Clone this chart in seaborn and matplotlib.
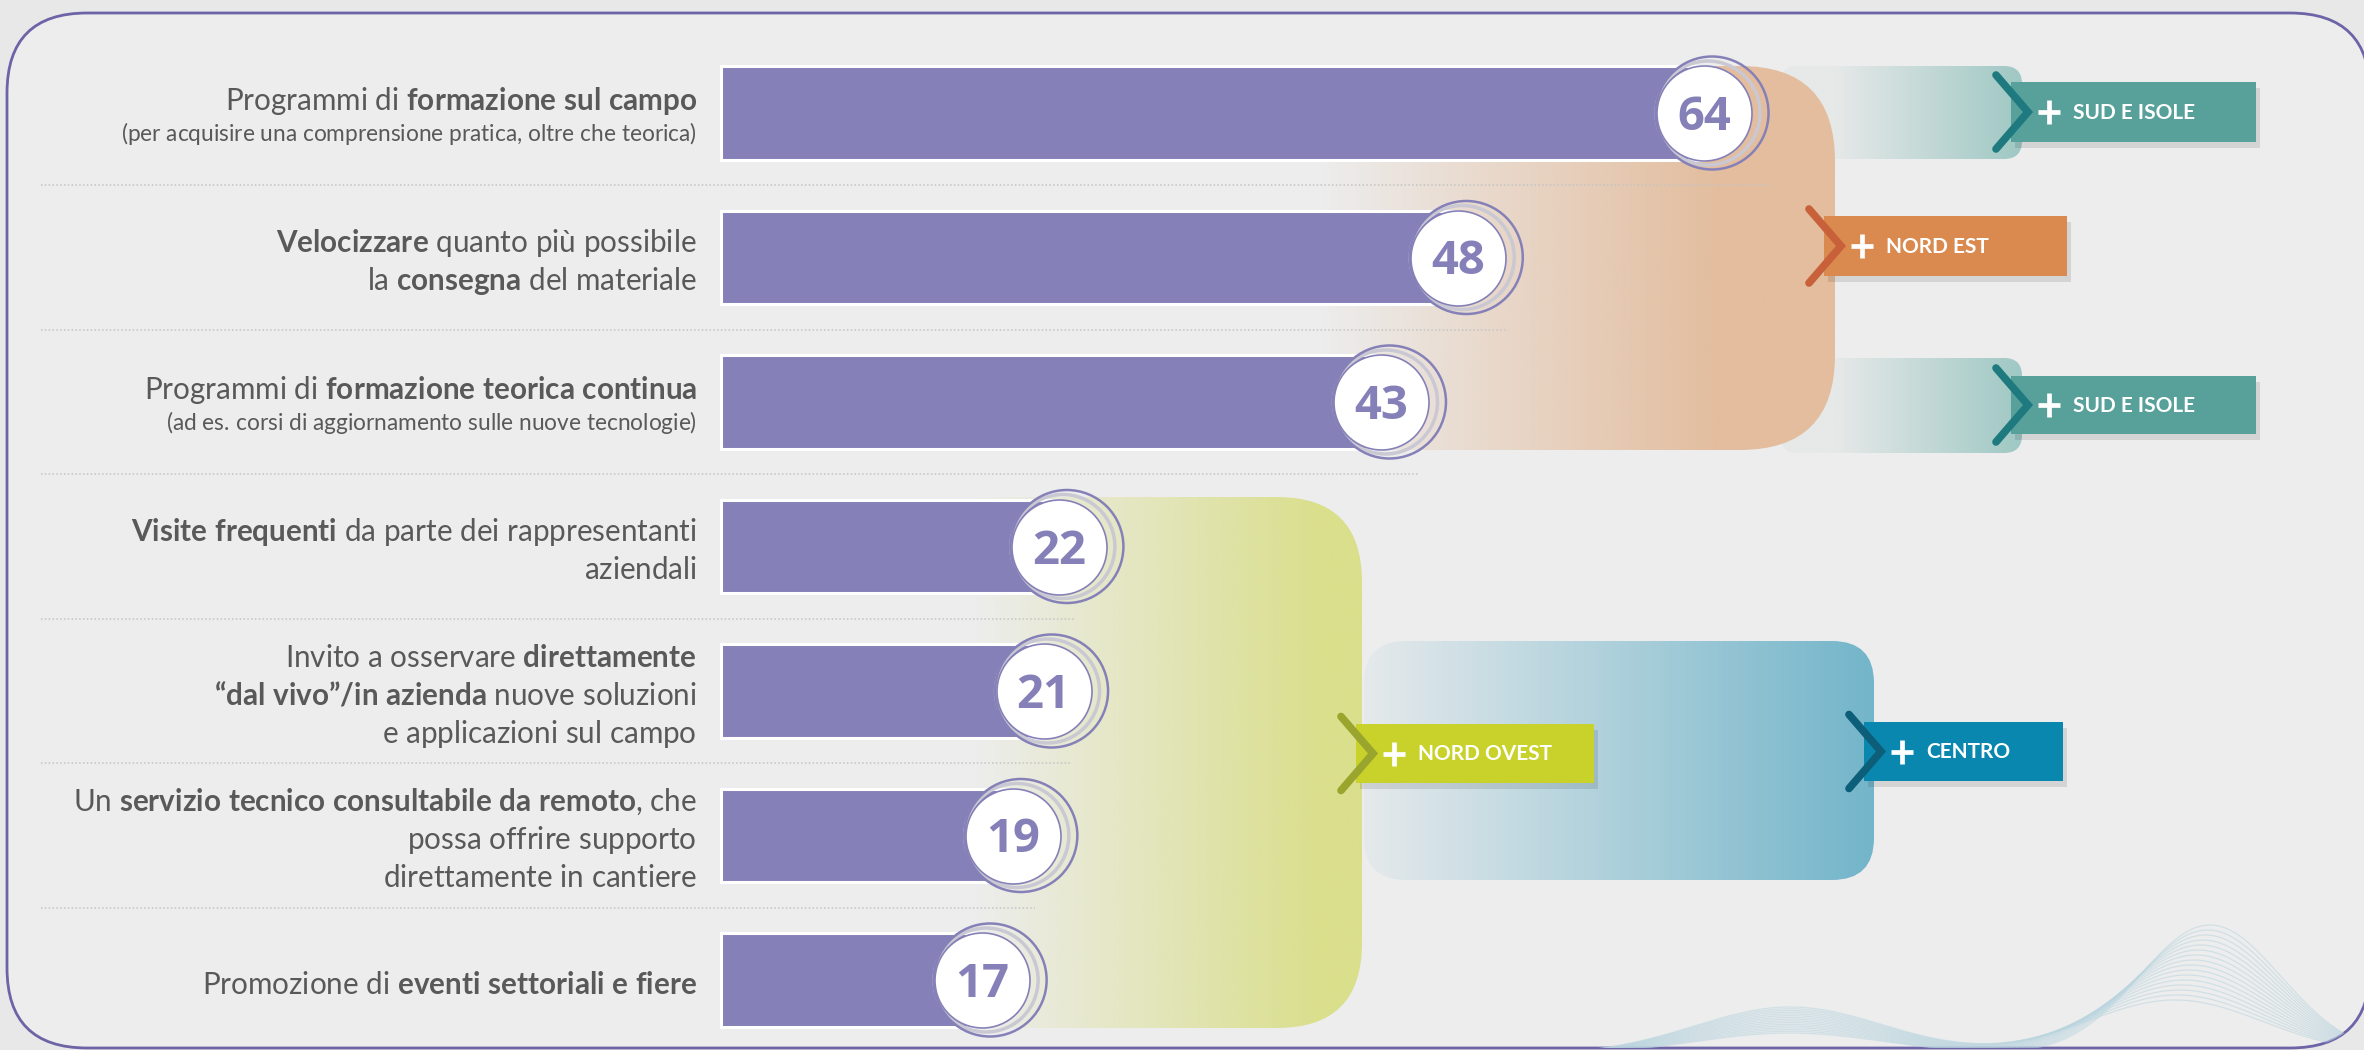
"""
Infographic: preferred support initiatives (%), with regional highlights
"""

import numpy as np
import pandas as pd
import matplotlib.pyplot as plt
from matplotlib.colors import to_rgb
from matplotlib.patches import FancyBboxPatch, Rectangle
import seaborn as sns

# --- Data ---
categories = ["Formazione sul campo", "Consegna materiale", "Formazione teorica",
              "Visite frequenti", "Osservare dal vivo", "Servizio tecnico remoto",
              "Eventi e fiere"]
values = [64, 48, 43, 22, 21, 19, 17]

# label text, **...** marks the bold part
label_lines = [
    ["Programmi di **formazione sul campo**",
     "(per acquisire una comprensione pratica, oltre che teorica)"],
    ["**Velocizzare** quanto più possibile", "la **consegna** del materiale"],
    ["Programmi di **formazione teorica continua**",
     "(ad es. corsi di aggiornamento sulle nuove tecnologie)"],
    ["**Visite frequenti** da parte dei rappresentanti", "aziendali"],
    ["Invito a osservare **direttamente**", "**“dal vivo”/in azienda** nuove soluzioni",
     "e applicazioni sul campo"],
    ["Un **servizio tecnico consultabile da remoto**, che", "possa offrire supporto",
     "direttamente in cantiere"],
    ["Promozione di **eventi settoriali e fiere**"],
]

region_names = ["SUD E ISOLE", "NORD EST", "SUD E ISOLE", "NORD OVEST", "CENTRO"]

# --- Style / layout (pixels) ---
W, H, DPI = 2364, 1050, 100
X0_PX, PX_PER_UNIT = 721, 15.36
Y0_PX, ROW_PX = 113, 144.5
PURPLE = "#8581B8"
TEXT = "#595959"
MAIN_SIZE, SUB_SIZE = 21.3, 16.3

region_boxes = [(2011, 82, 245, 60), (1824, 216, 243, 60), (2011, 376, 245, 58),
                (1356, 724, 238, 59), (1864, 722, 199, 59)]
region_colors = ["#57A19A", "#DA8A4E", "#57A19A", "#C9D22A", "#0A87AF"]
chevron_colors = ["#1F7A80", "#C8613A", "#1F7A80", "#9AA52E", "#0D5E79"]

# x0, x1, y0, y1, radius, left colour, right colour, alpha left, alpha right, fade start, fade end
panels = [
    (1780, 2022, 66, 159, 18, "#E6E9E8", "#9FC8C4", 1.0, 1.0, 1835, 2022),
    (1780, 2022, 358, 453, 18, "#E6E9E8", "#9FC8C4", 1.0, 1.0, 1835, 2022),
    (1200, 1835, 66, 450, 95, "#E3BD9E", "#E3BD9E", 0.0, 1.0, 1320, 1720),
    (880, 1362, 497, 1028, 85, "#DADF8C", "#DADF8C", 0.0, 1.0, 975, 1320),
    (1364, 1874, 641, 880, 42, "#E4E9EB", "#73B5CA", 1.0, 1.0, 1370, 1874),
]
separator_ends = [1772, 1508, 1418, 1076, 1072, 1035]

sns.set_theme(style="white")
plt.rcParams['font.family'] = ['Lato', 'DejaVu Sans']
plt.rcParams['mathtext.fontset'] = 'custom'
plt.rcParams['mathtext.rm'] = 'Lato'
plt.rcParams['mathtext.bf'] = 'Lato:bold'
plt.rcParams['mathtext.it'] = 'Lato:italic'


def to_mathtext(line):
    """Turn 'plain **bold** plain' into a mathtext string with mixed weights."""
    out = []
    for k, part in enumerate(line.split("**")):
        if not part:
            continue
        # mathtext pads punctuation, so keep commas braced and shorten the gap after dots
        part = part.replace(", ", "{,}\u0000").replace(". ", ".\\,")
        part = part.replace(" ", r"\ ").replace("\u0000", r"\ ")
        cmd = r"\mathbf" if k % 2 else r"\mathrm"
        out.append(cmd + "{" + part + "}")
    return "$" + "".join(out) + "$"


def gradient_panel(bg, spec, z):
    x0, x1, y0, y1, r, cl, cr, al, ar, fs, fe = spec
    patch = FancyBboxPatch((x0, y0), x1 - x0, y1 - y0,
                           boxstyle=f"round,pad=0,rounding_size={r}",
                           facecolor="none", edgecolor="none", zorder=z)
    bg.add_patch(patch)
    xs = np.linspace(x0, x1, 400)
    t = np.clip((xs - fs) / (fe - fs), 0, 1)
    c0, c1 = np.array(to_rgb(cl)), np.array(to_rgb(cr))
    rgb = (1 - t)[:, None] * c0 + t[:, None] * c1
    alpha = al + (ar - al) * t
    img = np.concatenate([rgb, alpha[:, None]], axis=1)[None, :, :]
    im = bg.imshow(img, extent=(x0, x1, y1, y0), aspect="auto",
                   interpolation="bilinear", zorder=z)
    im.set_clip_path(patch)


def draw_background(bg):
    frame = FancyBboxPatch((7, 13), 2363, 1035, boxstyle="round,pad=0,rounding_size=80",
                           facecolor="#EDEDED", edgecolor="#6C64A6", linewidth=2.0, zorder=1)
    bg.add_patch(frame)

    # faint wave mesh, bottom right (decoration only)
    xs = np.linspace(1560, 2360, 400)
    for k in range(16):
        f = k / 15
        ys = (1055 - (22 + 26 * f) * np.exp(-((xs - 1790) / 135) ** 2)
              - (130 - 75 * f) * np.exp(-((xs - (2210 - 35 * f)) / (100 + 25 * f)) ** 2))
        ln, = bg.plot(xs, ys, color="#B9D5DF", lw=0.9, alpha=0.55, zorder=1.5)
        ln.set_clip_path(frame)

    for i, spec in enumerate(panels):
        gradient_panel(bg, spec, 2 + 0.1 * i)

    # dotted separators between rows
    for i, x_end in enumerate(separator_ends):
        y = Y0_PX + ROW_PX * (i + 0.5)
        bg.plot([41, x_end], [y, y], color="#C4C4C4", lw=1.1,
                linestyle=(0, (1, 1.5)), zorder=2.8)

    # region tags
    for name, (bx, by, bw, bh), fc, cc in zip(region_names, region_boxes,
                                              region_colors, chevron_colors):
        cy = by + bh / 2
        bg.add_patch(Rectangle((bx + 4, by + 6), bw, bh, facecolor="black",
                               alpha=0.10, edgecolor="none", zorder=3))
        bg.add_patch(Rectangle((bx, by), bw, bh, facecolor=fc, edgecolor="none", zorder=3.1))
        bg.plot([bx - 15, bx + 17, bx - 15], [cy - 37, cy, cy + 37], color=cc,
                lw=5.5, solid_capstyle="round", solid_joinstyle="miter", zorder=3.2)
        px = bx + 38
        bg.plot([px - 11, px + 11], [cy, cy], color="white", lw=3.4,
                solid_capstyle="butt", zorder=3.3)
        bg.plot([px, px], [cy - 12, cy + 12], color="white", lw=3.4,
                solid_capstyle="butt", zorder=3.3)
        bg.text(bx + 62, cy + 1, name, color="white", fontsize=15, fontweight="bold",
                ha="left", va="center", zorder=3.4)

    bg.set_xlim(0, W)
    bg.set_ylim(H, 0)
    bg.axis("off")


def draw_bars(ax):
    df = pd.DataFrame({"categoria": categories, "valore": values})
    sns.barplot(data=df, x="valore", y="categoria", orient="h", color=PURPLE,
                saturation=1, width=0.645, edgecolor="white", linewidth=2.2,
                ax=ax, zorder=3)

    pos = np.arange(len(values))
    d_in = 95 * 72 / DPI
    d_grey = 104 * 72 / DPI
    d_out = 113 * 72 / DPI
    ax.scatter(np.array(values) + 4 / PX_PER_UNIT, pos, s=d_grey ** 2, facecolors="none",
               edgecolors="#C9C8D3", linewidths=2.5, zorder=4)
    ax.scatter(np.array(values) + 8 / PX_PER_UNIT, pos, s=d_out ** 2, facecolors="none",
               edgecolors=PURPLE, linewidths=1.8, zorder=4.5)
    ax.scatter(values, pos, s=d_in ** 2, facecolors="white", edgecolors=PURPLE,
               linewidths=1.2, zorder=5)
    for v, p in zip(values, pos):
        ax.annotate(str(v), xy=(v, p), xytext=(0, -17), textcoords="offset pixels",
                    ha="center", va="baseline", fontsize=34, fontweight="bold",
                    family="Open Sans", color=PURPLE, zorder=6)

    # rich labels to the left of the bars
    for p, lines in zip(pos, label_lines):
        sizes = [SUB_SIZE if ln.startswith("(") else MAIN_SIZE for ln in lines]
        steps = [33 if s == SUB_SIZE else 38 for s in sizes]
        offs = [0.0]
        for s in steps[1:]:
            offs.append(offs[-1] + s)
        shift = offs[-1] / 2 - 3
        for ln, fs, o in zip(lines, sizes, offs):
            cap = fs * DPI / 72 * 0.72
            ax.annotate(to_mathtext(ln), xy=(0, p),
                        xytext=(-24, -(o - shift) - cap / 2), textcoords="offset pixels",
                        ha="right", va="baseline", fontsize=fs, color=TEXT, zorder=6)

    ax.set_xlim(-X0_PX / PX_PER_UNIT, (W - X0_PX) / PX_PER_UNIT)
    ax.set_ylim((H - Y0_PX) / ROW_PX, -Y0_PX / ROW_PX)
    ax.axis("off")


def main():
    fig = plt.figure(figsize=(W / DPI, H / DPI), dpi=DPI, facecolor="#E8E8E8")
    bg = fig.add_axes([0, 0, 1, 1])
    ax = fig.add_axes([0, 0, 1, 1])
    ax.patch.set_alpha(0)

    draw_background(bg)
    draw_bars(ax)

    fig.savefig("out.png", dpi=DPI, facecolor=fig.get_facecolor())
    plt.close(fig)


if __name__ == "__main__":
    main()
